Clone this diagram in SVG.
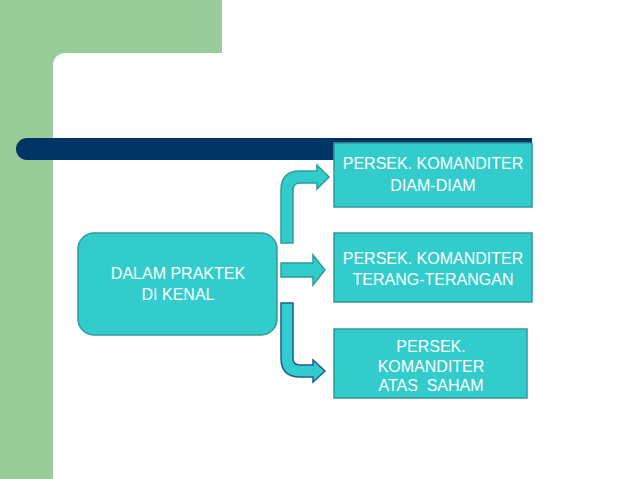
<svg xmlns="http://www.w3.org/2000/svg" width="638" height="479" viewBox="0 0 638 479">
<style>
.node{fill:#33CCCC;stroke:#2F9A9A;stroke-width:1.5}
.lbl{font-family:"Liberation Sans",Arial,sans-serif;font-size:16px;fill:#FFFFFF;text-anchor:middle;white-space:pre}
.arr{fill:#33CCCC;stroke:#2F9A9A;stroke-width:1.5;stroke-linejoin:miter}
.arr2{fill:#33CCCC;stroke:#1E5C96;stroke-width:1.5;stroke-linejoin:miter}
</style>
<rect width="638" height="479" fill="#FFFFFF"/>
<g id="background">
<rect x="0" y="0" width="222" height="66" fill="#99CC99"/>
<rect x="0" y="0" width="66" height="479" fill="#99CC99"/>
<rect x="53" y="53" width="640" height="500" rx="12" fill="#FFFFFF"/>
<path d="M27,138 L532,138 L532,160 L27,160 A11,11 0 0 1 27,138 Z" fill="#003366"/>
</g>
<g id="connectors">
<path class="arr" d="M281,243 L281,190 Q281,171 300,171 L317,171 L317,165 L329,177 L317,189 L317,183 L300,183 Q293,183 293,190 L293,243 Z"/>
<path class="arr" d="M281,263 L313,263 L313,255 L325,270 L313,285 L313,277 L281,277 Z"/>
<path class="arr2" d="M281,303 L293,303 L293,358 Q293,365 300,365 L313,365 L313,360 L325,371 L313,382 L313,377 L300,377 Q281,377 281,358 Z"/>
</g>
<g id="main">
<rect class="node" x="78" y="233" width="199" height="102" rx="16"/>
<text class="lbl" x="178" y="279">DALAM PRAKTEK</text>
<text class="lbl" x="178" y="300">DI KENAL</text>
</g>
<g id="box1">
<rect class="node" x="334" y="143" width="198" height="64"/>
<text class="lbl" x="433" y="169">PERSEK. KOMANDITER</text>
<text class="lbl" x="433" y="191">DIAM-DIAM</text>
</g>
<g id="box2">
<rect class="node" x="334" y="233" width="198" height="69"/>
<text class="lbl" x="433" y="264">PERSEK. KOMANDITER</text>
<text class="lbl" x="433" y="285">TERANG-TERANGAN</text>
</g>
<g id="box3">
<rect class="node" x="334" y="329" width="193" height="69"/>
<text class="lbl" x="431" y="352">PERSEK.</text>
<text class="lbl" x="431" y="372">KOMANDITER</text>
<text class="lbl" x="431" y="391">ATAS  SAHAM</text>
</g>
</svg>
